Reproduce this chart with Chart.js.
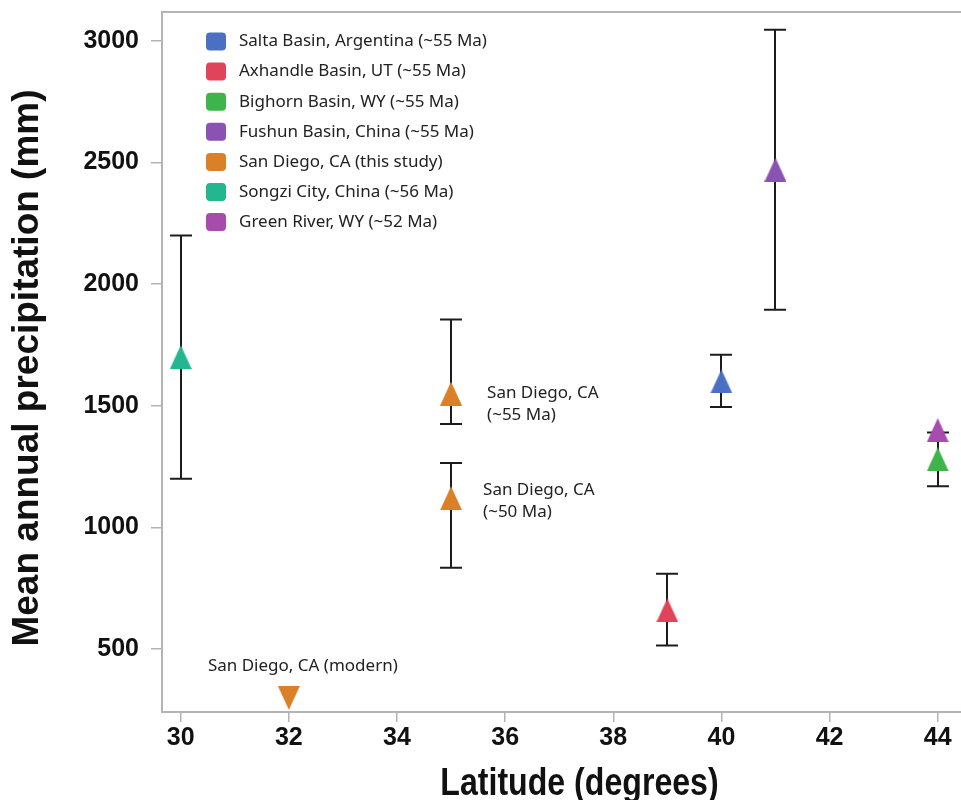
<!DOCTYPE html>
<html>
<head>
<meta charset="utf-8">
<script src="https://cdn.jsdelivr.net/npm/chart.js@4.4.1/dist/chart.umd.min.js"></script>
<style>
  html, body { margin: 0; padding: 0; background: #fff; }
  /* the figure is cropped on the right, like the source image */
  #wrap { width: 961px; height: 800px; position: relative; overflow: hidden; }
</style>
</head>
<body>
<div id="wrap"><canvas id="map-chart" width="997" height="800"></canvas></div>
<script>
/* Mean annual precipitation vs latitude, early Eocene sites.
 * One dataset per site, error bars / labels / legend drawn by small plugins
 * that read the same arrays through the chart scales.
 */

var siteNames = [
  'Salta Basin, Argentina (~55 Ma)',
  'Axhandle Basin, UT (~55 Ma)',
  'Bighorn Basin, WY (~55 Ma)',
  'Fushun Basin, China (~55 Ma)',
  'San Diego, CA (this study)',
  'Songzi City, China (~56 Ma)',
  'Green River, WY (~52 Ma)'
];
var siteColors = ['#4a6fc3', '#e0445a', '#3db54b', '#8a52b3', '#d98028', '#22b790', '#a84baf'];

// one entry per plotted point
var pointSite = [0, 1, 2, 3, 4, 4, 4, 5, 6];
var pointLat = [40, 39, 44, 41, 35, 35, 32, 30, 44];
var pointMAP = [1600, 660, 1280, 2470, 1550, 1120, 300, 1700, 1400];
var pointLow = [1495, 515, 1170, 1895, 1425, 835, null, 1200, null];
var pointHigh = [1710, 810, 1390, 3045, 1855, 1265, null, 2200, null];
var pointDown = [false, false, false, false, false, false, true, false, false];

var xTicks = [30, 32, 34, 36, 38, 40, 42, 44];
var yTicks = [500, 1000, 1500, 2000, 2500, 3000];

var xTitle = 'Latitude (degrees)';
var yTitle = 'Mean annual precipitation (mm)';

// text labels next to the San Diego points
var noteLines = [['San Diego, CA', '(~55 Ma)'], ['San Diego, CA', '(~50 Ma)'], ['San Diego, CA (modern)']];
var notePoint = [4, 5, 6];

var AXIS_GREY = '#b4b4b4';
var TEXT_FONT = "'Noto Sans', 'Open Sans', sans-serif";
var BOLD_FONT = "'Liberation Sans', Arial, sans-serif";

function makeTriangle(color, down) {
  var c = document.createElement('canvas');
  c.width = 22;
  c.height = 24;
  var g = c.getContext('2d');
  g.fillStyle = color;
  g.beginPath();
  if (down) {
    g.moveTo(0, 0); g.lineTo(22, 0); g.lineTo(11, 24);
  } else {
    g.moveTo(11, 0); g.lineTo(22, 24); g.lineTo(0, 24);
  }
  g.closePath();
  g.fill();
  return c;
}

function buildDatasets() {
  var sets = [];
  for (var s = 0; s < siteNames.length; s++) {
    var pts = [], styles = [];
    for (var i = 0; i < pointSite.length; i++) {
      if (pointSite[i] !== s) continue;
      pts.push({ x: pointLat[i], y: pointMAP[i] });
      styles.push(makeTriangle(siteColors[s], pointDown[i]));
    }
    sets.push({
      label: siteNames[s],
      data: pts,
      backgroundColor: siteColors[s],
      pointStyle: styles,
      pointRadius: 11,
      pointHoverRadius: 11
    });
  }
  return sets;
}

var errorBars = {
  id: 'errorBars',
  beforeDatasetsDraw: function (chart) {
    var ctx = chart.ctx, xs = chart.scales.x, ys = chart.scales.y;
    ctx.save();
    ctx.strokeStyle = '#1c1c1c';
    ctx.lineWidth = 2;
    for (var i = 0; i < pointLat.length; i++) {
      if (pointLow[i] == null) continue;
      var px = Math.round(xs.getPixelForValue(pointLat[i]));
      var lo = ys.getPixelForValue(pointLow[i]);
      var hi = ys.getPixelForValue(pointHigh[i]);
      ctx.beginPath();
      ctx.moveTo(px, lo); ctx.lineTo(px, hi);
      ctx.moveTo(px - 11, lo); ctx.lineTo(px + 11, lo);
      ctx.moveTo(px - 11, hi); ctx.lineTo(px + 11, hi);
      ctx.stroke();
    }
    ctx.restore();
  }
};

var noteOffsets = [{ dx: 36, dy: 0 }, { dx: 32, dy: -8 }, { dx: 14, dy: -32 }];

var notes = {
  id: 'notes',
  afterDatasetsDraw: function (chart) {
    var ctx = chart.ctx, xs = chart.scales.x, ys = chart.scales.y;
    ctx.save();
    ctx.font = '17px ' + TEXT_FONT;
    ctx.fillStyle = '#222';
    ctx.textBaseline = 'middle';
    for (var n = 0; n < noteLines.length; n++) {
      var i = notePoint[n];
      var px = xs.getPixelForValue(pointLat[i]) + noteOffsets[n].dx;
      var py = ys.getPixelForValue(pointMAP[i]) + noteOffsets[n].dy;
      ctx.textAlign = noteLines[n].length === 1 ? 'center' : 'left';
      for (var k = 0; k < noteLines[n].length; k++) {
        ctx.fillText(noteLines[n][k], px, py + k * 22);
      }
    }
    ctx.restore();
  }
};

var frameAndLegend = {
  id: 'frameAndLegend',
  afterDraw: function (chart) {
    var ctx = chart.ctx, a = chart.chartArea, xs = chart.scales.x;
    ctx.save();
    // top frame line
    ctx.strokeStyle = AXIS_GREY;
    ctx.lineWidth = 2;
    ctx.beginPath();
    ctx.moveTo(a.left - 1, a.top);
    ctx.lineTo(a.right, a.top);
    ctx.stroke();

    // legend inside the plot
    ctx.font = '17px ' + TEXT_FONT;
    ctx.textBaseline = 'middle';
    ctx.textAlign = 'left';
    for (var s = 0; s < siteNames.length; s++) {
      var cy = a.top + 29.5 + s * 30.1;
      ctx.fillStyle = siteColors[s];
      ctx.beginPath();
      ctx.roundRect(206, cy - 9, 20, 18, 4);
      ctx.fill();
      ctx.fillStyle = '#222';
      ctx.fillText(siteNames[s], 239, cy);
    }

    // axis titles
    ctx.fillStyle = '#111';
    ctx.textAlign = 'center';

    ctx.save();
    ctx.font = 'bold 37px ' + BOLD_FONT;
    ctx.textBaseline = 'middle';
    ctx.translate(28, (a.top + a.bottom) / 2 + 6);
    ctx.rotate(-Math.PI / 2);
    ctx.fillText(yTitle, 0, 0);
    ctx.restore();

    // x title in a narrower bold face
    ctx.font = 'bold 38px ' + BOLD_FONT;
    ctx.textBaseline = 'alphabetic';
    ctx.translate((xs.left + xs.right) / 2 + 6, xs.bottom - 5);
    ctx.scale(0.845, 1);
    ctx.fillText(xTitle, 0, 0);
    ctx.restore();
  }
};

var tickFont = { family: BOLD_FONT, size: 25, weight: 'bold' };

function plainLabel(v) { return String(v); }

new Chart(document.getElementById('map-chart'), {
  type: 'scatter',
  data: { datasets: buildDatasets() },
  options: {
    responsive: false,
    devicePixelRatio: 1,
    animation: false,
    layout: { padding: { top: 6, right: 0, left: 0, bottom: 0 } },
    plugins: { legend: { display: false }, tooltip: { enabled: false } },
    scales: {
      x: {
        type: 'linear',
        min: 29.654,
        max: 44.875,
        afterBuildTicks: function (s) { s.ticks = xTicks.map(function (v) { return { value: v }; }); },
        afterFit: function (s) { s.height = 88; },
        border: { display: true, color: AXIS_GREY, width: 2 },
        grid: { drawOnChartArea: false, drawTicks: true, tickLength: 10, color: AXIS_GREY, lineWidth: 1.5 },
        ticks: { color: '#111', font: tickFont, padding: 1, maxRotation: 0, autoSkip: false, callback: plainLabel },
        title: { display: false }
      },
      y: {
        type: 'linear',
        min: 242,
        max: 3118,
        afterBuildTicks: function (s) { s.ticks = yTicks.map(function (v) { return { value: v }; }); },
        afterFit: function (s) { s.width = 162; s.paddingTop = 0; s.paddingBottom = 0; },
        border: { display: true, color: AXIS_GREY, width: 2 },
        grid: { drawOnChartArea: false, drawTicks: true, tickLength: 11, color: AXIS_GREY, lineWidth: 1.5 },
        ticks: { color: '#111', font: tickFont, padding: 12, autoSkip: false, callback: plainLabel },
        title: { display: false }
      }
    }
  },
  plugins: [errorBars, notes, frameAndLegend]
});
</script>
</body>
</html>
